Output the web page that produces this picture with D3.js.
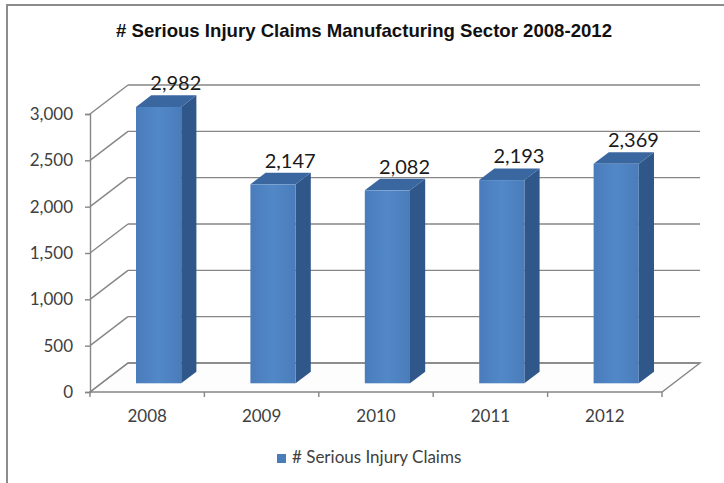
<!DOCTYPE html>
<html>
<head>
<meta charset="utf-8">
<script src="https://cdn.jsdelivr.net/npm/d3@7"></script>
<style>
  html, body { margin: 0; padding: 0; background: #fff; }
  svg { display: block; }
</style>
</head>
<body>
<svg id="chart" width="724" height="483"></svg>
<script>
// Serious injury claims in the manufacturing sector, by year
const years = ["2008", "2009", "2010", "2011", "2012"];
const claims = [2982, 2147, 2082, 2193, 2369];
const yTicks = [0, 500, 1000, 1500, 2000, 2500, 3000];
const seriesName = "# Serious Injury Claims";
const title = "# Serious Injury Claims Manufacturing Sector 2008-2012";

const svg = d3.select("#chart");

// Frame: front plane of the 3D plot and the depth vector to the back wall
const front = { left: 90, right: 662, bottom: 392 };
const depth = { dx: 38, dy: -29 };

const xOuter = d3.scaleBand().domain(years).range([front.left, front.right]);
const x = d3.scaleBand().domain(years).range([front.left, front.right])
  .paddingInner(0.605).paddingOuter(0.3025);
const y = d3.scaleLinear().domain([0, 3000]).range([front.bottom, front.bottom - 278]);

const gridColor = "#868686";
const axisText = "#404040";

// Outer border (top and left edges)
svg.append("path")
  .attr("d", "M7,483 V5 H724")
  .attr("fill", "none")
  .attr("stroke", "#8c8c8c")
  .attr("stroke-width", 2);

// Title
svg.append("text")
  .attr("x", 364).attr("y", 36.5)
  .attr("text-anchor", "middle")
  .attr("font-family", "Liberation Sans, Arial, sans-serif")
  .attr("font-weight", "bold")
  .attr("font-size", 18.6)
  .attr("fill", "#111")
  .text(title);

// Floor
const backLeft = front.left + depth.dx;
const backRight = front.right + depth.dx;
svg.append("path")
  .attr("d", `M${front.left},${front.bottom} L${front.right},${front.bottom} L${backRight},${front.bottom + depth.dy} L${backLeft},${front.bottom + depth.dy} Z`)
  .attr("fill", "#fdfdfd")
  .attr("stroke", gridColor)
  .attr("stroke-width", 1.4);

// Back wall gridlines and side wall diagonals
const grid = svg.append("g").attr("stroke", gridColor).attr("stroke-width", 1.4).attr("fill", "none");
yTicks.forEach(t => {
  const yf = y(t);
  grid.append("line")
    .attr("x1", front.left).attr("y1", yf)
    .attr("x2", backLeft).attr("y2", yf + depth.dy);
  grid.append("line")
    .attr("x1", backLeft).attr("y1", yf + depth.dy)
    .attr("x2", backRight).attr("y2", yf + depth.dy);
});

// Front value axis
const yAxis = svg.append("g")
  .attr("transform", `translate(${front.left},0)`)
  .call(d3.axisLeft(y).tickValues(yTicks).tickSize(5).tickPadding(12).tickFormat(d3.format(",")));
yAxis.select(".domain").attr("stroke", gridColor).attr("stroke-width", 1.4);
yAxis.selectAll(".tick line").attr("stroke", gridColor).attr("stroke-width", 1.4);
yAxis.selectAll(".tick text")
  .attr("font-family", "Lato, sans-serif")
  .attr("font-size", 17)
  .attr("fill", axisText);

// Category axis along the front edge of the floor
const xAxis = svg.append("g")
  .attr("transform", `translate(0,${front.bottom})`)
  .call(d3.axisBottom(xOuter).tickSize(0).tickPadding(18));
xAxis.select(".domain").remove();
xAxis.selectAll(".tick text")
  .attr("font-family", "Lato, sans-serif")
  .attr("font-size", 17)
  .attr("fill", axisText);
// Category boundary tick marks
const bounds = [front.left].concat(years.map(d => xOuter(d) + xOuter.bandwidth()));
svg.append("g").selectAll("line").data(bounds).join("line")
  .attr("x1", d => d).attr("x2", d => d)
  .attr("y1", front.bottom).attr("y2", front.bottom + 5)
  .attr("stroke", gridColor).attr("stroke-width", 1.4);

// Bars: front face sits 30% into the depth, back face at 70%
const f0 = 0.3, f1 = 0.7;
const defs = svg.append("defs");
const grad = defs.append("linearGradient").attr("id", "frontFill").attr("x1", 0).attr("x2", 1).attr("y1", 0).attr("y2", 0);
grad.append("stop").attr("offset", 0).attr("stop-color", "#4a7cbb");
grad.append("stop").attr("offset", 0.5).attr("stop-color", "#5288c8");
grad.append("stop").attr("offset", 1).attr("stop-color", "#4a7cba");

const bars = svg.append("g").selectAll("g").data(years.map((d, i) => ({ year: d, value: claims[i] }))).join("g");
bars.each(function (d) {
  const g = d3.select(this);
  const x0 = x(d.year) + depth.dx * f0;
  const x1 = x0 + x.bandwidth();
  const base = front.bottom + depth.dy * f0;
  const top = y(d.value) + depth.dy * f0;
  const sx = depth.dx * (f1 - f0), sy = depth.dy * (f1 - f0);
  // side face
  g.append("path")
    .attr("d", `M${x1},${top} L${x1 + sx},${top + sy} L${x1 + sx},${base + sy} L${x1},${base} Z`)
    .attr("fill", "#30578a");
  // top face
  g.append("path")
    .attr("d", `M${x0},${top} L${x1},${top} L${x1 + sx},${top + sy} L${x0 + sx},${top + sy} Z`)
    .attr("fill", "#3a67a0");
  // front face
  g.append("rect")
    .attr("x", x0).attr("y", top)
    .attr("width", x.bandwidth()).attr("height", base - top)
    .attr("fill", "url(#frontFill)");
  // value label above the back edge of the top face
  g.append("text")
    .attr("x", x0 + sx + x.bandwidth() / 2 + 2)
    .attr("y", top + sy - 5)
    .attr("text-anchor", "middle")
    .attr("font-family", "Lato, sans-serif")
    .attr("font-size", 20)
    .attr("fill", "#1a1a1a")
    .text(d3.format(",")(d.value));
});

// Legend
const legend = svg.append("g").attr("transform", "translate(277,454)");
legend.append("rect").attr("width", 9).attr("height", 9).attr("fill", "#4a7cbb");
legend.append("text")
  .attr("x", 15).attr("y", 9)
  .attr("font-family", "Lato, sans-serif")
  .attr("font-size", 17)
  .attr("fill", axisText)
  .text(seriesName);
</script>
</body>
</html>
